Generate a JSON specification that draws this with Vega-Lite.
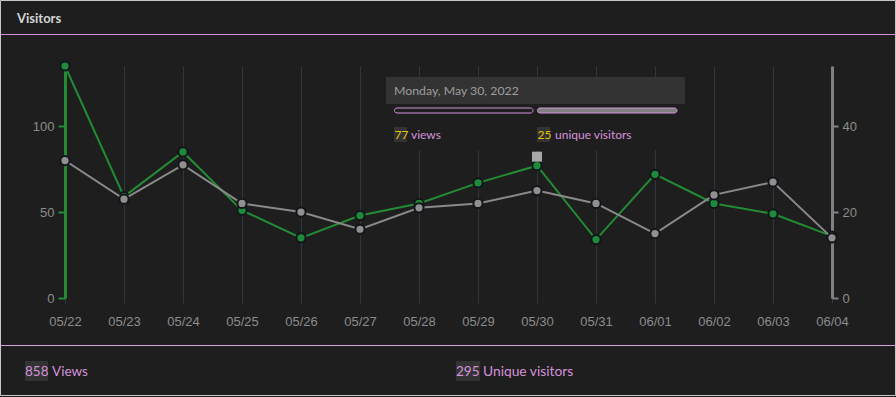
{
  "$schema": "https://vega.github.io/schema/vega-lite/v6.json",
  "width": 767,
  "height": 232,
  "autosize": {"type": "none"},
  "padding": {"left": 65, "top": 66, "right": 64, "bottom": 99},
  "background": "#1e1e1e",
  "config": {
    "view": {"stroke": null},
    "axis": {"labelFont": "Liberation Sans", "labelFontSize": 13, "labelColor": "#8c8c8c", "title": null}
  },
  "datasets": {
    "visits": [
      {"day": 0, "date": "05/22", "views": 135, "visitors": 32},
      {"day": 1, "date": "05/23", "views": 59, "visitors": 23},
      {"day": 2, "date": "05/24", "views": 85, "visitors": 31},
      {"day": 3, "date": "05/25", "views": 51, "visitors": 22},
      {"day": 4, "date": "05/26", "views": 35, "visitors": 20},
      {"day": 5, "date": "05/27", "views": 48, "visitors": 16},
      {"day": 6, "date": "05/28", "views": 55, "visitors": 21},
      {"day": 7, "date": "05/29", "views": 67, "visitors": 22},
      {"day": 8, "date": "05/30", "views": 77, "visitors": 25},
      {"day": 9, "date": "05/31", "views": 34, "visitors": 22},
      {"day": 10, "date": "06/01", "views": 72, "visitors": 15},
      {"day": 11, "date": "06/02", "views": 55, "visitors": 24},
      {"day": 12, "date": "06/03", "views": 49, "visitors": 27},
      {"day": 13, "date": "06/04", "views": 36, "visitors": 14}
    ]
  },
  "resolve": {"scale": {"y": "independent"}, "axis": {"y": "independent"}},
  "layer": [
    {
      "layer": [
        {
          "data": {"values": [{}]},
          "mark": {"type": "rect", "filled": false, "stroke": "#c8c8c8", "strokeWidth": 1, "clip": false},
          "encoding": {"x": {"datum": -1.09322}, "x2": {"datum": 14.07627}, "y": {"datum": 173.11}, "y2": {"datum": -56.74}}
        },
        {
          "data": {"values": [{}]},
          "mark": {"type": "text", "text": "Visitors", "align": "left", "baseline": "middle", "font": "Lato", "fontSize": 13, "fontWeight": "bold", "color": "#d4d4d4"},
          "encoding": {"x": {"datum": -0.81356}, "y": {"datum": 162.5}}
        },
        {
          "data": {"values": [{}]},
          "mark": {"type": "rule", "color": "#d98be0", "strokeWidth": 1.2},
          "encoding": {"x": {"datum": -1.08475}, "x2": {"datum": 14.0678}, "y": {"datum": 153.33}}
        },
        {
          "data": {"values": [{}]},
          "mark": {"type": "rule", "color": "#d8a2dc", "strokeWidth": 1},
          "encoding": {"x": {"datum": -1.08475}, "x2": {"datum": 14.0678}, "y": {"datum": -27.64}}
        },
        {
          "data": {"values": [{}]},
          "mark": {"type": "rect", "color": "#333333"},
          "encoding": {"x": {"datum": -0.67797}, "x2": {"datum": -0.28814}, "y": {"datum": -36.66}, "y2": {"datum": -48.3}}
        },
        {
          "data": {"values": [{}]},
          "mark": {"type": "rect", "color": "#333333"},
          "encoding": {"x": {"datum": 6.62712}, "x2": {"datum": 7.0339}, "y": {"datum": -36.66}, "y2": {"datum": -48.3}}
        },
        {
          "data": {"values": [{}]},
          "mark": {"type": "text", "text": "858", "align": "left", "baseline": "middle", "font": "Lato", "fontSize": 13.5, "color": "#d592dc"},
          "encoding": {"x": {"datum": -0.67797}, "y": {"datum": -43.06}}
        },
        {
          "data": {"values": [{}]},
          "mark": {"type": "text", "text": "Views", "align": "left", "baseline": "middle", "font": "Lato", "fontSize": 13.5, "color": "#d592dc"},
          "encoding": {"x": {"datum": -0.22034}, "y": {"datum": -43.06}}
        },
        {
          "data": {"values": [{}]},
          "mark": {"type": "text", "text": "295", "align": "left", "baseline": "middle", "font": "Lato", "fontSize": 13.5, "color": "#d592dc"},
          "encoding": {"x": {"datum": 6.62712}, "y": {"datum": -43.06}}
        },
        {
          "data": {"values": [{}]},
          "mark": {"type": "text", "text": "Unique visitors", "align": "left", "baseline": "middle", "font": "Lato", "fontSize": 13.8, "color": "#d592dc"},
          "encoding": {"x": {"datum": 7.08475}, "y": {"datum": -43.06}}
        },
        {
          "data": {"values": [{}]},
          "mark": {"type": "rect", "color": "#1e1e1e"},
          "encoding": {"x": {"datum": 5.44068}, "x2": {"datum": 10.50847}, "y": {"datum": 128.6}, "y2": {"datum": 86.12}}
        },
        {
          "data": {"values": [{}]},
          "mark": {"type": "rect", "color": "#333333"},
          "encoding": {"x": {"datum": 5.44068}, "x2": {"datum": 10.50847}, "y": {"datum": 128.6}, "y2": {"datum": 112.89}}
        },
        {
          "data": {"values": [{}]},
          "mark": {"type": "text", "text": "Monday, May 30, 2022", "align": "left", "baseline": "middle", "font": "Lato", "fontSize": 12.3, "color": "#9e9e9e"},
          "encoding": {"x": {"datum": 5.57627}, "y": {"datum": 120.45}}
        },
        {
          "data": {"values": [{}]},
          "mark": {"type": "rect", "fill": "#1e1e1e", "stroke": "#d592dc", "strokeWidth": 1, "cornerRadius": 3},
          "encoding": {"x": {"datum": 5.58475}, "x2": {"datum": 7.9322}, "y": {"datum": 110.56}, "y2": {"datum": 107.65}}
        },
        {
          "data": {"values": [{}]},
          "mark": {"type": "rect", "fill": "#808080", "stroke": "#d592dc", "strokeWidth": 1, "cornerRadius": 3},
          "encoding": {"x": {"datum": 8.00847}, "x2": {"datum": 10.37288}, "y": {"datum": 110.56}, "y2": {"datum": 107.65}}
        },
        {
          "data": {"values": [{}]},
          "mark": {"type": "rect", "color": "#333333"},
          "encoding": {"x": {"datum": 5.57627}, "x2": {"datum": 5.79661}, "y": {"datum": 99.5}, "y2": {"datum": 90.78}}
        },
        {
          "data": {"values": [{}]},
          "mark": {"type": "rect", "color": "#333333"},
          "encoding": {"x": {"datum": 8.0}, "x2": {"datum": 8.22034}, "y": {"datum": 99.5}, "y2": {"datum": 90.78}}
        },
        {
          "data": {"values": [{}]},
          "mark": {"type": "text", "text": "77", "align": "left", "baseline": "middle", "font": "Lato", "fontSize": 12, "color": "#e6c200"},
          "encoding": {"x": {"datum": 5.58475}, "y": {"datum": 95.14}}
        },
        {
          "data": {"values": [{}]},
          "mark": {"type": "text", "text": "views", "align": "left", "baseline": "middle", "font": "Lato", "fontSize": 12, "color": "#d592dc"},
          "encoding": {"x": {"datum": 5.86441}, "y": {"datum": 95.14}}
        },
        {
          "data": {"values": [{}]},
          "mark": {"type": "text", "text": "25", "align": "left", "baseline": "middle", "font": "Lato", "fontSize": 12, "color": "#e6c200"},
          "encoding": {"x": {"datum": 8.00847}, "y": {"datum": 95.14}}
        },
        {
          "data": {"values": [{}]},
          "mark": {"type": "text", "text": "unique visitors", "align": "left", "baseline": "middle", "font": "Lato", "fontSize": 12, "color": "#d592dc"},
          "encoding": {"x": {"datum": 8.30508}, "y": {"datum": 95.14}}
        },
        {
          "data": {"name": "visits"},
          "mark": {"type": "line", "color": "#228b34", "strokeWidth": 2},
          "encoding": {
            "x": {
              "field": "day", "type": "quantitative", "title": null,
              "scale": {"domain": [0, 13], "nice": false, "zero": false},
              "axis": {
                "values": [0, 1, 2, 3, 4, 5, 6, 7, 8, 9, 10, 11, 12, 13],
                "labelExpr": "['05/22','05/23','05/24','05/25','05/26','05/27','05/28','05/29','05/30','05/31','06/01','06/02','06/03','06/04'][datum.value]",
                "domain": false, "grid": true, "gridColor": "#30363d", "gridWidth": 1,
                "ticks": true, "tickColor": "#30363d", "tickSize": 5, "labelPadding": 12,
                "labelFlush": false, "labelOverlap": false, "title": null
              }
            },
            "y": {
              "field": "views", "type": "quantitative", "title": null,
              "scale": {"domain": [0, 135], "nice": false},
              "axis": {
                "orient": "left", "values": [0, 50, 100], "grid": false,
                "domainColor": "#228b34", "domainWidth": 3, "tickColor": "#228b34", "tickWidth": 2,
                "tickSize": 7, "labelPadding": 4, "title": null
              }
            }
          }
        },
        {
          "data": {"name": "visits"},
          "mark": {"type": "circle", "fill": "#1e8b3a", "stroke": "#12161c", "strokeWidth": 2, "size": 85, "opacity": 1},
          "encoding": {
            "x": {"field": "day", "type": "quantitative", "title": null},
            "y": {"field": "views", "type": "quantitative", "title": null}
          }
        }
      ]
    },
    {
      "layer": [
        {
          "data": {"name": "visits"},
          "mark": {"type": "line", "color": "#8a8a8a", "strokeWidth": 2},
          "encoding": {
            "x": {"field": "day", "type": "quantitative", "title": null},
            "y": {
              "field": "visitors", "type": "quantitative", "title": null,
              "scale": {"domain": [0, 54], "nice": false},
              "axis": {
                "orient": "right", "values": [0, 20, 40], "grid": false,
                "domainColor": "#808080", "domainWidth": 3, "tickColor": "#808080", "tickWidth": 2,
                "tickSize": 6, "labelPadding": 4, "title": null
              }
            }
          }
        },
        {
          "data": {"name": "visits"},
          "mark": {"type": "circle", "fill": "#909090", "stroke": "#12161c", "strokeWidth": 2, "size": 85, "opacity": 1},
          "encoding": {
            "x": {"field": "day", "type": "quantitative", "title": null},
            "y": {"field": "visitors", "type": "quantitative", "title": null}
          }
        },
        {
          "data": {"values": [{}]},
          "mark": {"type": "point", "shape": "square", "filled": true, "color": "#a8a8a8", "size": 100, "opacity": 1},
          "encoding": {"x": {"datum": 8}, "y": {"datum": 32.9}}
        }
      ]
    }
  ]
}
